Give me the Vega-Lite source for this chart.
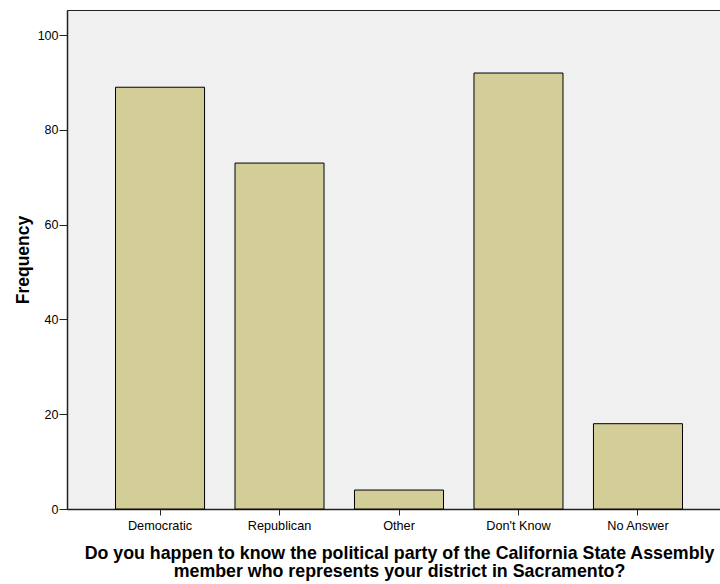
{
  "$schema": "https://vega.github.io/schema/vega-lite/v6.json",
  "autosize": {"type": "none"},
  "padding": {"left": 67, "top": 10, "right": 0, "bottom": 75},
  "width": 664,
  "height": 499,
  "background": "#ffffff",
  "config": {
    "view": {"fill": "#f0f0f0", "stroke": "#222222", "strokeWidth": 1},
    "font": "Liberation Sans",
    "axis": {"labelFont": "Liberation Sans", "titleFont": "Liberation Sans", "labelColor": "#000", "titleColor": "#000", "domainColor": "#222", "tickColor": "#222", "grid": false}
  },
  "data": {
    "values": [
      {"answer": "Democratic", "frequency": 89},
      {"answer": "Republican", "frequency": 73},
      {"answer": "Other", "frequency": 4},
      {"answer": "Don't Know", "frequency": 92},
      {"answer": "No Answer", "frequency": 18}
    ]
  },
  "mark": {"type": "bar", "fill": "#d3ce97", "stroke": "#000000", "strokeWidth": 1},
  "encoding": {
    "x": {
      "field": "answer",
      "type": "nominal",
      "sort": null,
      "scale": {"paddingInner": 0.255, "paddingOuter": 0.406},
      "axis": {
        "title": ["Do you happen to know the political party of the California State Assembly", "member  who represents your district in Sacramento?"],
        "titleFontSize": 17.8,
        "titleFontWeight": "bold",
        "titleLineHeight": 18,
        "titlePadding": 13,
        "labelAngle": 0,
        "labelFontSize": 12.7,
        "labelPadding": 4,
        "tickSize": 6,
        "domainWidth": 1.5
      }
    },
    "y": {
      "field": "frequency",
      "type": "quantitative",
      "scale": {"domain": [0, 105.3], "nice": false},
      "axis": {
        "title": "Frequency",
        "titleFontSize": 17.5,
        "titleFontWeight": "bold",
        "titlePadding": 5,
        "values": [0, 20, 40, 60, 80, 100],
        "labelFontSize": 12.5,
        "labelPadding": 1,
        "tickSize": 8,
        "domainWidth": 1.5
      }
    }
  }
}
